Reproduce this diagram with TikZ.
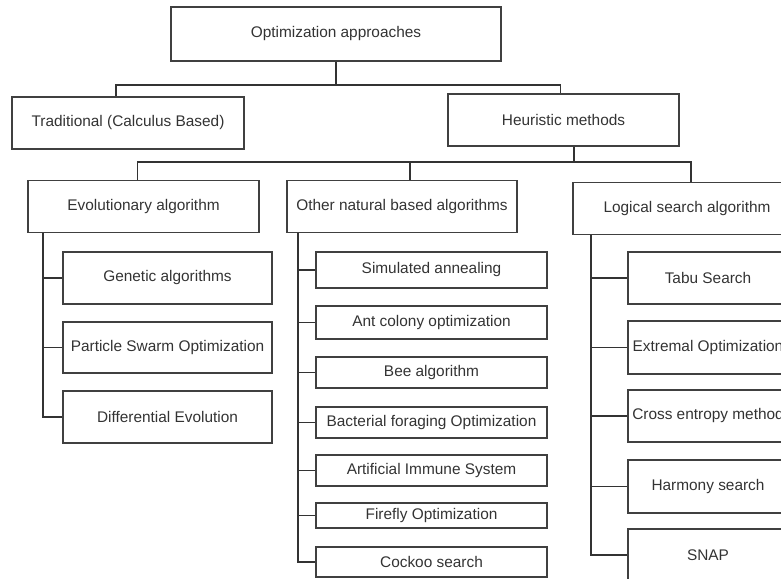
\documentclass[tikz,border=0pt]{standalone}
\usepackage{fontspec}
\setmainfont{Liberation Sans}
\usepackage{tikz}
\tikzset{my box/.style={
  draw=black!75,
  line width=1.6pt,
  rectangle,
  inner sep=0pt,
  text=black!80,
  font=\fontsize{15.4}{18}\selectfont
  }
}
\tikzset{my line/.style={
  black!80,
  line width=1.6pt
  }
}
\begin{document}
\begin{tikzpicture}[x=1pt,y=-1pt]
    \useasboundingbox (0,0) rectangle (781,578);
    \clip (0,0) rectangle (781,578);

    \node[my box,minimum width=330pt,minimum height=54pt] (Opt) at (336,34) {Optimization approaches};
    \node[my box,minimum width=232pt,minimum height=52pt] (Trad) at (128,123) {Traditional (Calculus Based)};
    \node[my box,minimum width=231pt,minimum height=52pt] (Heur) at (563.5,120) {Heuristic methods};

    \coordinate (B1) at (336,85);
    \draw[my line] (Opt.south) -- (B1);
    \draw[my line] ([xshift=-12pt]Trad.north) |- (B1) -| ([xshift=-3pt]Heur.north);

    \node[my box,minimum width=231pt,minimum height=52pt] (Evo) at (143.5,206.5) {Evolutionary algorithm};
    \node[my box,minimum width=230pt,minimum height=52pt] (Nat) at (402,206.5) {Other natural based algorithms};
    \node[my box,minimum width=228pt,minimum height=52pt] (Log) at (687,208.5) {Logical search algorithm};

    \coordinate (B2) at (574,162);
    \draw[my line] (Heur.south -| B2) -- (B2);
    \draw[my line] ([xshift=-6pt]Evo.north) |- (B2) -| ([xshift=4pt]Log.north);
    \draw[my line] ([xshift=8pt]Nat.north) |- (B2);

    \foreach \i/\y/\h [count=\n] in {Genetic algorithms/278/52,Particle Swarm Optimization/347.5/51,Differential Evolution/417/52}
        \node[my box,minimum width=209pt,minimum height=\h pt] (E\n) at (167.5,\y) {\i};
    \foreach \n in {1,2,3}
        \draw[my line] ([xshift=16pt]Evo.south west) |- (E\n.west);

    \foreach \i/\y/\h [count=\n] in {Simulated annealing/270/36,Ant colony optimization/322.5/33,Bee algorithm/372.5/31,Bacterial foraging Optimization/422.5/31,Artificial Immune System/470.5/31,Firefly Optimization/515.5/25,Cockoo search/562/30}
        \node[my box,minimum width=231pt,minimum height=\h pt] (O\n) at (431.5,\y) {\i};
    \foreach \n in {1,...,7}
        \draw[my line] ([xshift=12pt]Nat.south west) |- (O\n.west);

    \foreach \i/\y/\h [count=\n] in {Tabu Search/278/52,Extremal Optimization/347.5/53,Cross entropy method/416/52,Harmony search/486.5/53,SNAP/555/52}
        \node[my box,minimum width=160pt,minimum height=\h pt] (L\n) at (708,\y) {\i};
    \foreach \n in {1,...,5}
        \draw[my line] ([xshift=19pt]Log.south west) |- (L\n.west);
\end{tikzpicture}
\end{document}
